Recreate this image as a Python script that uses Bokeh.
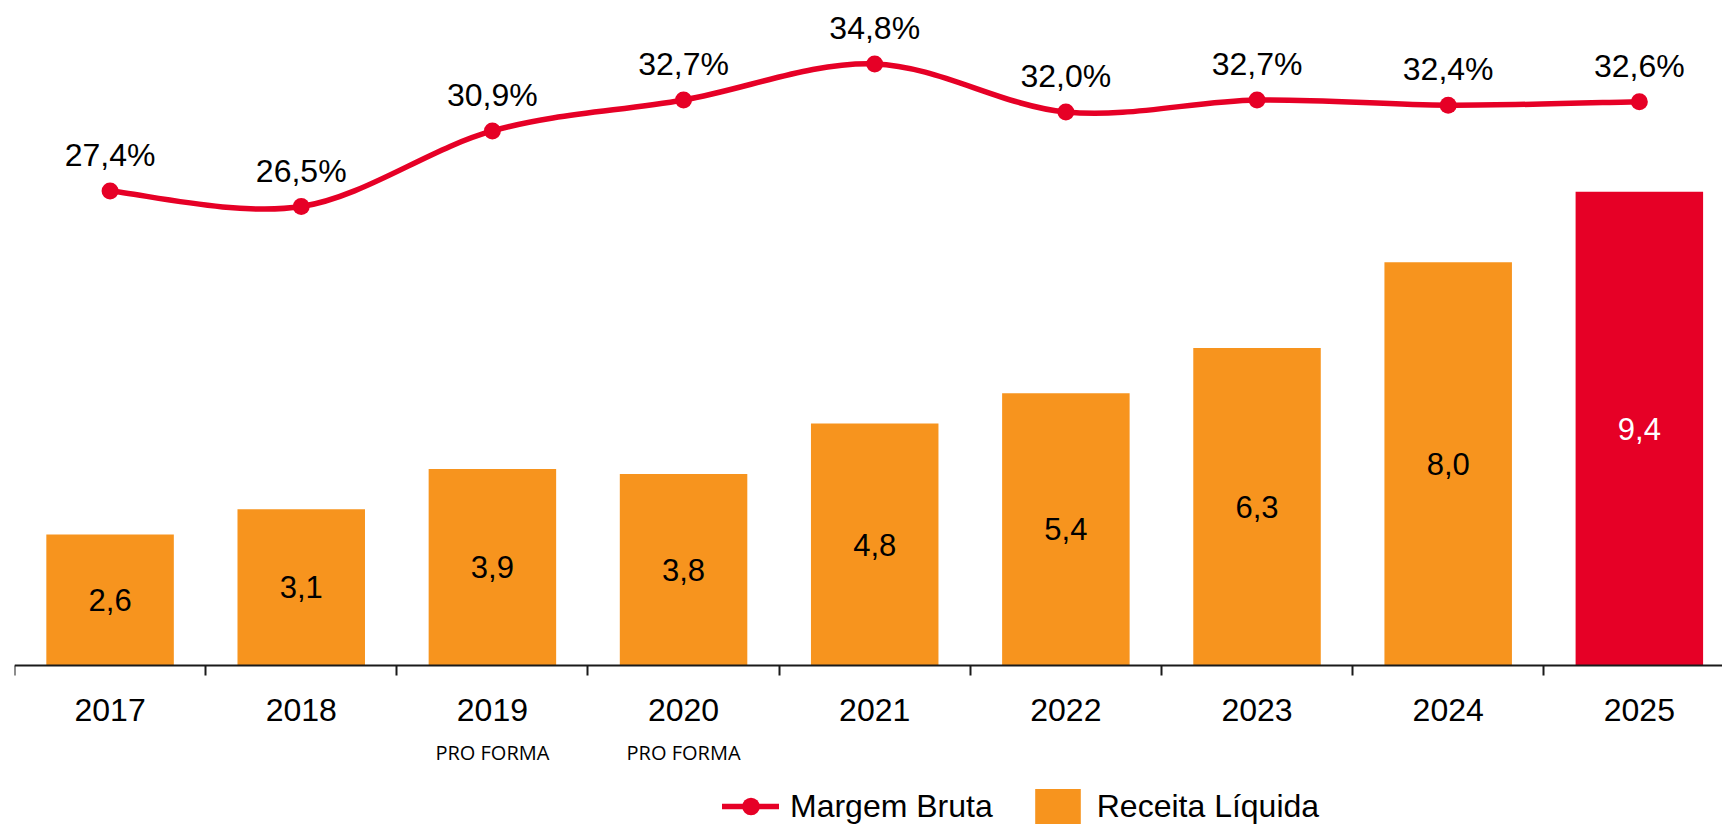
from bokeh.plotting import figure
from bokeh.models import Range1d, FixedTicker, ColumnDataSource, Legend, LegendItem
from bokeh.core.properties import value
from bokeh.embed import file_html
from bokeh.resources import INLINE

# ---------------- data ----------------
years = ["2017", "2018", "2019", "2020", "2021", "2022", "2023", "2024", "2025"]
notes = ["", "", "PRO FORMA", "PRO FORMA", "", "", "", "", ""]
receita = [2.6, 3.1, 3.9, 3.8, 4.8, 5.4, 6.3, 8.0, 9.4]          # Receita Líquida
margem = [27.4, 26.5, 30.9, 32.7, 34.8, 32.0, 32.7, 32.4, 32.6]  # Margem Bruta (%)

ORANGE = "#F7941E"
RED = "#E60026"
FONT = "Liberation Sans"

n = len(years)
xs = list(range(n))

def fmt(v, suffix=""):
    return f"{v:.1f}".replace(".", ",") + suffix

# ---------------- figure ----------------
p = figure(width=1722, height=828, output_backend="svg", toolbar_location=None,
           x_range=Range1d(-0.5, 8.435), y_range=Range1d(-3.234, 13.194),
           y_axis_location=None, min_border=0, min_border_left=14)
p.extra_y_ranges = {"pct": Range1d(-9.680, 38.488)}
p.outline_line_color = None
p.background_fill_color = "white"
p.border_fill_color = "white"
p.grid.visible = False

# bars
bar_src = ColumnDataSource(dict(
    x=xs, top=receita, mid=[v / 2 for v in receita],
    color=[ORANGE] * (n - 1) + [RED],
    label=[fmt(v) for v in receita],
    label_color=["black"] * (n - 1) + ["white"],
))
bars = p.vbar(x="x", top="top", bottom=0, width=0.667, fill_color="color",
              line_color=None, source=bar_src)
p.text(x="x", y="mid", text="label", text_color="label_color", source=bar_src,
       text_font=value(FONT), text_font_size="31px", text_align="center",
       text_baseline="alphabetic", y_offset=0)

# smoothed margin line (cubic Bezier segments through the data points)
x0, y0, x1, y1, cx0, cy0, cx1, cy1 = [], [], [], [], [], [], [], []
for i in range(n - 1):
    a = max(i - 1, 0)
    b = min(i + 2, n - 1)
    x0.append(xs[i]); y0.append(margem[i])
    x1.append(xs[i + 1]); y1.append(margem[i + 1])
    cx0.append(xs[i] + (xs[i + 1] - xs[a]) / 6)
    cy0.append(margem[i] + (margem[i + 1] - margem[a]) / 6)
    cx1.append(xs[i + 1] - (xs[b] - xs[i]) / 6)
    cy1.append(margem[i + 1] - (margem[b] - margem[i]) / 6)
line_r = p.bezier(x0=x0, y0=y0, x1=x1, y1=y1, cx0=cx0, cy0=cy0, cx1=cx1, cy1=cy1,
                  line_color=RED, line_width=5.5, line_cap="round",
                  y_range_name="pct")
pct_src = ColumnDataSource(dict(x=xs, y=margem, label=[fmt(v, "%") for v in margem]))
mark_r = p.scatter(x="x", y="y", size=17, fill_color=RED, line_color=None,
                   source=pct_src, y_range_name="pct")
p.text(x="x", y="y", text="label", source=pct_src, y_range_name="pct",
       text_font=value(FONT), text_font_size="32px", text_color="black",
       text_align="center", text_baseline="alphabetic", y_offset=-36)

# PRO FORMA notes under the axis labels
note_src = ColumnDataSource(dict(x=xs, y=[0] * n, label=notes))
p.text(x="x", y="y", text="label", source=note_src,
       text_font=value("Open Sans"), text_font_size="20px", text_color="black",
       text_align="center", text_baseline="alphabetic", y_offset=87)

# x axis at the baseline
ax = p.xaxis[0]
ax.fixed_location = 0
ax.ticker = FixedTicker(ticks=xs, minor_ticks=[i - 0.5 for i in xs])
ax.major_label_overrides = {i: y for i, y in enumerate(years)}
ax.major_tick_line_color = None
ax.major_tick_in = 0
ax.major_tick_out = 0
ax.minor_tick_in = 0
ax.minor_tick_out = 10
ax.minor_tick_line_color = "#1a1a1a"
ax.minor_tick_line_width = 2
ax.axis_line_color = "#1a1a1a"
ax.axis_line_width = 2
ax.major_label_text_font = FONT
ax.major_label_text_font_size = "32px"
ax.major_label_text_color = "black"
ax.major_label_standoff = 23

# legend
legend = Legend(items=[
    LegendItem(label=value("Margem Bruta"), renderers=[line_r, mark_r]),
    LegendItem(label=value("Receita Líquida"), renderers=[bars], index=0),
], orientation="horizontal", location=(708, 0), glyph_width=57, glyph_height=44,
    label_standoff=11, spacing=36, padding=0, margin=0, border_line_color=None,
    background_fill_alpha=0, label_text_font=FONT,
    label_text_font_size="32px", label_text_color="black")
p.add_layout(legend)

open("out.html", "w").write(file_html(p, INLINE))
